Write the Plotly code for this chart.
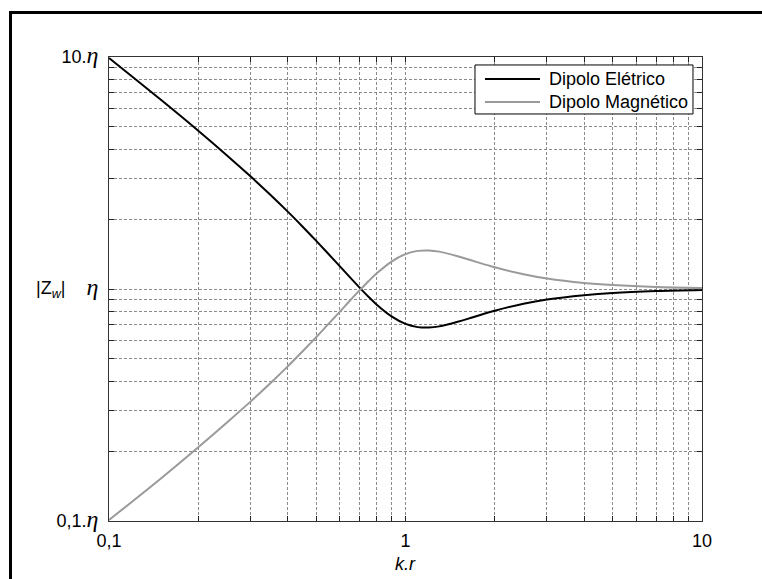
import plotly.graph_objects as go

# k.r values
kr = [0.1, 0.15, 0.2, 0.25, 0.3, 0.35, 0.4, 0.45, 0.5, 0.55, 0.6, 0.65, 0.7, 0.75,
      0.8, 0.9, 1.0, 1.1, 1.2, 1.3, 1.5, 1.7, 2.0, 2.5, 3.0, 4.0, 5.0, 7.0, 10.0]
# |Zw| / eta
z_eletrico = [9.90, 6.52, 4.81, 3.765, 3.059, 2.548, 2.160, 1.856, 1.612, 1.415, 1.254,
              1.122, 1.014, 0.926, 0.856, 0.760, 0.707, 0.685, 0.682, 0.690, 0.722,
              0.758, 0.806, 0.864, 0.901, 0.941, 0.962, 0.980, 0.990]
z_magnetico = [0.101, 0.153, 0.208, 0.266, 0.327, 0.3925, 0.463, 0.539, 0.620, 0.707,
               0.797, 0.892, 0.986, 1.080, 1.168, 1.316, 1.414, 1.460, 1.466, 1.449,
               1.385, 1.319, 1.240, 1.158, 1.110, 1.062, 1.040, 1.020, 1.010]
series_names = ["Dipolo Elétrico", "Dipolo Magnético"]
series_colors = ["#000000", "#9a9a9a"]

ETA = "<span style='font-family:Liberation Serif;font-size:24px'><i>η</i></span>"

x_tickvals = [0.1, 0.2, 0.3, 0.4, 0.5, 0.6, 0.7, 0.8, 0.9, 1, 2, 3, 4, 5, 6, 7, 8, 9, 10]
x_ticktext = ["0,1"] + [""] * 8 + ["1"] + [""] * 8 + ["10"]
y_tickvals = x_tickvals
y_ticktext = ["0,1." + ETA] + [""] * 8 + [ETA] + [""] * 8 + ["10." + ETA]

FONT = "Liberation Sans, Arial, sans-serif"

fig = go.Figure()
for ys, nm, col in zip([z_eletrico, z_magnetico], series_names, series_colors):
    fig.add_trace(go.Scatter(x=kr, y=ys, mode="lines", name=nm, showlegend=False,
                             line=dict(color=col, width=2, shape="spline")))

axis_common = dict(
    type="log", showline=True, linecolor="#333333", linewidth=1, mirror="ticks",
    ticks="inside", ticklen=5, tickcolor="#222222",
    showgrid=True, gridcolor="#8a8a8a", gridwidth=1, griddash="3px,2px",
    zeroline=False, tickfont=dict(family=FONT, size=18, color="black"),
)

fig.update_xaxes(range=[-1, 1], tickmode="array", tickvals=x_tickvals, ticktext=x_ticktext,
                 tickangle=0, ticklabelstandoff=3, **axis_common)
fig.update_yaxes(range=[-1, 1], tickmode="array", tickvals=y_tickvals, ticktext=y_ticktext,
                 ticklabelstandoff=6, **axis_common)

fig.add_annotation(text="<i>k.r</i>", xref="paper", yref="paper", x=0.5, y=-0.092,
                   xanchor="center", yanchor="middle", showarrow=False,
                   font=dict(family=FONT, size=18, color="black"))
fig.add_annotation(text="|Z<sub><i>w</i></sub>|", xref="paper", yref="y", x=-0.098, y=0,
                   xanchor="center", yanchor="middle", showarrow=False,
                   font=dict(family=FONT, size=18, color="black"))

# outer frame
fig.add_shape(type="rect", xref="paper", yref="paper", x0=-0.1661, y0=1.0958, x1=1.2, y1=-0.2,
              line=dict(color="black", width=3), layer="below")

# legend box (drawn manually to match the compact reference legend)
fig.add_shape(type="rect", xref="paper", yref="paper", x0=0.6172, y0=0.8772, x1=0.9848, y1=0.9828,
              line=dict(color="black", width=1), fillcolor="white", layer="above")
for i, (nm, col) in enumerate(zip(series_names, series_colors)):
    yy = 0.9526 - i * 0.0496
    fig.add_shape(type="line", xref="paper", yref="paper", x0=0.634, x1=0.7268, y0=yy, y1=yy,
                  line=dict(color=col, width=2), layer="above")
    fig.add_annotation(text=nm, xref="paper", yref="paper", x=0.7386, y=yy,
                       xanchor="left", yanchor="middle", showarrow=False,
                       font=dict(family=FONT, size=18, color="black"))

fig.update_layout(
    width=762, height=579,
    margin=dict(l=109, r=60, t=57, b=58),
    paper_bgcolor="white", plot_bgcolor="white",
    font=dict(family=FONT, size=18, color="black"),
    showlegend=False,
)

fig.write_html("out.html", config={"displayModeBar": False},
               post_script="document.body.style.margin='0';")
